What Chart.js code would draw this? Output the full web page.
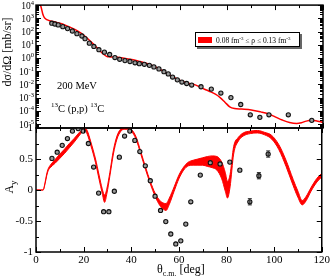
<!DOCTYPE html>
<html>
<head>
<meta charset="utf-8">
<script src="https://cdn.jsdelivr.net/npm/chart.js@4.4.0/dist/chart.umd.min.js"></script>
<style>
  body { margin: 0; background: #fff; }
  #wrap { position: relative; width: 332px; height: 278px; }
  #wrap canvas { position: absolute; left: 0; top: 0; }
</style>
</head>
<body>
<div id="wrap">
  <canvas id="xsChart" width="332" height="278"></canvas>
  <canvas id="ayChart" width="332" height="278"></canvas>
</div>
<script>
// cross section data, 13C(p,p) at 200 MeV  (deg, mb/sr)
const xsAngles = [6.6, 7.9, 9.3, 11.2, 13.2, 15.2, 17.1, 19.2, 20.5, 22.3, 24.2, 26.3, 28.6, 30.8, 33.0,
  35.0, 37.2, 39.3, 41.4, 43.2, 45.3, 47.4, 49.3, 51.4, 53.5, 55.3, 57.1, 59.1, 61.0, 63.0, 65.1,
  69.0, 73.3, 77.3, 81.5, 85.6, 89.6, 93.6, 97.4, 105.5, 115.3];
const xsValues = [427, 372, 316, 234, 166, 110, 69, 46, 29, 13.2, 7.4, 4.2, 2.75, 1.82, 1.07,
  0.79, 0.63, 0.54, 0.43, 0.37, 0.33, 0.275, 0.21, 0.148, 0.091, 0.062, 0.036, 0.022, 0.015, 0.0117, 0.0089,
  0.0066, 0.0044, 0.0022, 0.0010, 0.0003, 5.0e-5, 3.2e-5, 5.0e-5, 5.0e-5, 1.9e-5];

// calculated cross section (red curve)
const xsCurveAngles = [1.6, 2.2, 2.8, 3.5, 4.5, 6, 8, 10, 12, 14, 16, 18, 20, 22, 24, 26, 28, 29.5, 31, 33, 35,
  37, 40, 43, 46, 48, 50, 52, 54, 56, 58, 60, 62, 64, 66, 68.6, 70.5, 72.7, 75, 77, 79, 81, 83, 86, 90,
  94, 97, 100, 103, 106, 109, 111, 113, 115, 117, 120];
const xsCurveValues = [16000, 6300, 2240, 1120, 790, 630, 525, 417, 316, 224, 151, 95, 52, 25, 11.2, 4.8, 2.1, 1.32, 1.2, 1.17, 1.1,
  0.95, 0.76, 0.56, 0.40, 0.30, 0.21, 0.132, 0.083, 0.050, 0.032, 0.021, 0.015, 0.0117, 0.010, 0.0063, 0.0043, 0.0029, 0.0018, 0.0010, 0.00045, 0.0002, 0.000148, 0.000135, 0.000117,
  8.3e-5, 6.0e-5, 3.5e-5, 2.0e-5, 1.3e-5, 1.1e-5, 1.26e-5, 1.66e-5, 1.9e-5, 1.8e-5, 1.3e-5];

// analyzing power data
const ayAngles = [6.7, 8.9, 11.0, 13.2, 15.3, 17.7, 19.8, 22.0, 24.2, 26.3, 28.4, 30.6, 32.9, 35.0, 37.2, 39.4,
  41.5, 43.6, 45.9, 48.0, 50.0, 52.3, 54.5, 56.6, 58.7, 60.8, 62.9, 65.0, 69.0, 73.2, 77.3, 81.4, 85.6,
  89.8, 93.6, 97.5];
const ayValues = [0.51, 0.61, 0.72, 0.83, 0.95, 0.99, 0.95, 0.75, 0.37, -0.05, -0.35, -0.35, -0.02, 0.53, 0.87, 0.95,
  0.80, 0.62, 0.39, 0.15, -0.10, -0.33, -0.51, -0.71, -0.87, -0.82, -0.55, -0.19, 0.24, 0.44, 0.42, 0.45, 0.32,
  -0.19, 0.23, 0.58];
const ayErrors = [0, 0, 0, 0, 0, 0, 0, 0, 0, 0, 0, 0, 0, 0, 0, 0,
  0, 0, 0, 0, 0, 0, 0, 0, 0, 0, 0, 0, 0, 0, 0, 0, 0,
  0.05, 0.05, 0.05];

// calculated Ay band, 0.08 <= rho <= 0.13 fm^-3
const bandAngles = [0, 2, 3, 3.8, 4.5, 5.1, 6, 8, 10, 12, 14, 16, 18, 19.5, 20.5, 21.5, 23, 25, 26.5, 27.8, 28.8, 29.8,
  31, 32.5, 34, 35.5, 37, 38.5, 40, 42, 44, 46, 48, 50, 52, 53.5, 54.6, 56, 58, 60, 62, 64, 66, 68, 70, 72,
  74, 76, 78, 79.5, 80.4, 81.5, 83, 85, 87, 90, 93, 96, 99, 102, 105, 108, 110, 111.8, 113.5, 115.5, 118, 120];
const bandLow = [0, 0, 0, 0.10, 0.23, 0.31, 0.36, 0.43, 0.51, 0.59, 0.68, 0.77, 0.87, 0.94, 0.97, 0.90, 0.72, 0.44, 0.17, -0.05, -0.20, -0.05,
  0.22, 0.58, 0.82, 0.94, 0.98, 0.98, 0.95, 0.82, 0.58, 0.33, 0.10, -0.10, -0.25, -0.31, -0.33, -0.23, -0.02, 0.18, 0.32, 0.39, 0.40, 0.40, 0.40, 0.38,
  0.36, 0.32, 0.18, -0.02, -0.13, 0.05, 0.58, 0.79, 0.87, 0.91, 0.92, 0.89, 0.82, 0.65, 0.38, 0.07, -0.12, -0.24, -0.17, -0.02, 0.13, 0.21];
const bandHigh = [0, 0, 0, 0.12, 0.26, 0.34, 0.40, 0.49, 0.58, 0.66, 0.75, 0.83, 0.92, 0.98, 1.0, 0.96, 0.78, 0.50, 0.24, 0.02, -0.08, 0.03,
  0.28, 0.64, 0.87, 0.98, 1.0, 1.0, 0.98, 0.86, 0.62, 0.37, 0.14, -0.05, -0.17, -0.21, -0.22, -0.13, 0.05, 0.24, 0.37, 0.45, 0.48, 0.50, 0.52, 0.54,
  0.55, 0.54, 0.45, 0.28, 0.14, 0.25, 0.70, 0.85, 0.92, 0.95, 0.96, 0.93, 0.88, 0.73, 0.48, 0.17, -0.02, -0.17, -0.10, 0.04, 0.19, 0.27];

const xMajor = [0, 20, 40, 60, 80, 100, 120];
const xMinor = [10, 30, 50, 70, 90, 110];
const ayMajor = [-1, -0.5, 0, 0.5, 1];
const ayMinor = [-0.75, -0.25, 0.25, 0.75];
const decades = [-5, -4, -3, -2, -1, 0, 1, 2, 3, 4];

const serif = '"Liberation Serif", "DejaVu Serif", serif';
const pts = (xs, ys) => xs.map((x, i) => ({ x: x, y: ys[i] }));

function line(ctx, x1, y1, x2, y2) {
  ctx.beginPath();
  ctx.moveTo(x1, y1);
  ctx.lineTo(x2, y2);
  ctx.stroke();
}

// inward ticks on all four sides + box
function drawFrame(chart, yMajor, yMinor) {
  const { ctx, chartArea: a } = chart;
  const sx = chart.scales.x, sy = chart.scales.y;
  ctx.save();
  ctx.strokeStyle = '#000';
  ctx.lineWidth = 1;
  xMajor.forEach(v => {
    const p = Math.round(sx.getPixelForValue(v)) + 0.5;
    line(ctx, p, a.top, p, a.top + 5);
    line(ctx, p, a.bottom, p, a.bottom - 5);
  });
  xMinor.forEach(v => {
    const p = Math.round(sx.getPixelForValue(v)) + 0.5;
    line(ctx, p, a.top, p, a.top + 3);
    line(ctx, p, a.bottom, p, a.bottom - 3);
  });
  yMajor.forEach(v => {
    const p = Math.round(sy.getPixelForValue(v)) + 0.5;
    line(ctx, a.left, p, a.left + 5, p);
    line(ctx, a.right, p, a.right - 5, p);
  });
  yMinor.forEach(v => {
    const p = Math.round(sy.getPixelForValue(v)) + 0.5;
    line(ctx, a.left, p, a.left + 3, p);
    line(ctx, a.right, p, a.right - 3, p);
  });
  ctx.lineWidth = 1.5;
  ctx.strokeRect(a.left, a.top, a.right - a.left, a.bottom - a.top);
  ctx.restore();
}

// text with superscript / subscript pieces: [text, size, dy]
function drawPieces(ctx, pieces, x, y) {
  let cx = x;
  pieces.forEach(p => {
    ctx.font = p[1] + 'px ' + serif;
    ctx.fillText(p[0], cx, y + p[2]);
    cx += ctx.measureText(p[0]).width;
  });
  return cx;
}
function piecesWidth(ctx, pieces) {
  let w = 0;
  pieces.forEach(p => {
    ctx.font = p[1] + 'px ' + serif;
    w += ctx.measureText(p[0]).width;
  });
  return w;
}

const logMinor = [];
decades.forEach(d => {
  for (let m = 2; m <= 9; m++) {
    const v = m * Math.pow(10, d);
    if (v < 1e4) logMinor.push(v);
  }
});
logMinor.push(6e-6, 7e-6, 8e-6, 9e-6);

const xsDecor = {
  id: 'xsDecor',
  afterDraw(chart) {
    const ctx = chart.ctx;
    const sy = chart.scales.y;
    drawFrame(chart, decades.map(d => Math.pow(10, d)), logMinor);
    ctx.save();
    ctx.fillStyle = '#000';
    ctx.textBaseline = 'alphabetic';
    // log tick labels
    decades.forEach(d => {
      const y = sy.getPixelForValue(Math.pow(10, d));
      const pieces = [['10', 9.5, 0], [String(d), 6.5, -4]];
      const w = piecesWidth(ctx, pieces);
      drawPieces(ctx, pieces, 34 - w, y + 3.5);
    });
    // y title
    ctx.save();
    ctx.translate(11, 52);
    ctx.rotate(-Math.PI / 2);
    ctx.font = '12px ' + serif;
    ctx.textAlign = 'center';
    ctx.fillText('dσ/dΩ [mb/sr]', 0, 0);
    ctx.restore();
    // annotations
    ctx.font = '10.5px ' + serif;
    ctx.fillText('200 MeV', 57, 89);
    drawPieces(ctx, [['13', 7, -5], ['C (p,p)', 10.5, 0], [' ', 10.5, 0], ['13', 7, -5], ['C', 10.5, 0]], 51, 112);
    // legend
    ctx.fillStyle = '#666';
    ctx.fillRect(197, 34, 105, 15);
    ctx.fillStyle = '#fff';
    ctx.fillRect(195, 32, 105, 15);
    ctx.strokeStyle = '#000';
    ctx.lineWidth = 1;
    ctx.strokeRect(195.5, 32.5, 104, 14);
    ctx.fillStyle = 'red';
    ctx.fillRect(198, 37, 14, 6);
    ctx.fillStyle = '#000';
    drawPieces(ctx, [['0.08 fm', 7.5, 0], ['-3', 5, -3.5], [' ≤ ρ ≤ 0.13 fm', 7.5, 0], ['-3', 5, -3.5]], 216, 43);
    ctx.restore();
  }
};

const ayDecor = {
  id: 'ayDecor',
  afterDatasetsDraw(chart) {
    const ctx = chart.ctx;
    const sx = chart.scales.x, sy = chart.scales.y;
    ctx.save();
    ctx.strokeStyle = '#222';
    ctx.lineWidth = 1;
    ayAngles.forEach((x, i) => {
      if (!ayErrors[i]) return;
      const px = sx.getPixelForValue(x);
      const y1 = sy.getPixelForValue(ayValues[i] - ayErrors[i]);
      const y2 = sy.getPixelForValue(ayValues[i] + ayErrors[i]);
      line(ctx, px, y1, px, y2);
      line(ctx, px - 2, y1, px + 2, y1);
      line(ctx, px - 2, y2, px + 2, y2);
    });
    ctx.restore();
  },
  afterDraw(chart) {
    const ctx = chart.ctx;
    drawFrame(chart, ayMajor, ayMinor);
    ctx.save();
    ctx.fillStyle = '#000';
    // A_y title
    ctx.save();
    ctx.translate(13, 187);
    ctx.rotate(-Math.PI / 2);
    const ay = [['A', 12, 0], ['y', 9, 3]];
    drawPieces(ctx, ay, -piecesWidth(ctx, ay) / 2, 0);
    ctx.restore();
    // x title
    const xt = [['θ', 12, 0], ['c.m.', 8, 3], [' [deg]', 12, 0]];
    drawPieces(ctx, xt, 157, 273);
    ctx.restore();
  }
};

const pointStyle = {
  showLine: false,
  pointRadius: 2.1,
  pointBackgroundColor: '#9a9a9a',
  pointBorderColor: '#111',
  pointBorderWidth: 1.1
};

new Chart(document.getElementById('xsChart'), {
  type: 'line',
  data: {
    datasets: [Object.assign({ data: pts(xsAngles, xsValues) }, pointStyle), {
      data: pts(xsCurveAngles, xsCurveValues),
      borderColor: '#ff0000',
      borderWidth: 1.5,
      pointRadius: 0,
      cubicInterpolationMode: 'monotone'
    }]
  },
  options: {
    responsive: false,
    animation: false,
    layout: { padding: { left: 0, right: 9, top: 5, bottom: 150 } },
    plugins: { legend: { display: false }, tooltip: { enabled: false } },
    scales: {
      x: { type: 'linear', min: 0, max: 120, display: false },
      y: {
        type: 'logarithmic', min: 5e-6, max: 1e4,
        ticks: { display: false },
        grid: { display: false },
        border: { display: false },
        afterFit(s) { s.width = 36; }
      }
    }
  },
  plugins: [xsDecor]
});

new Chart(document.getElementById('ayChart'), {
  type: 'line',
  data: {
    datasets: [Object.assign({ data: pts(ayAngles, ayValues) }, pointStyle), {
      data: pts(bandAngles, bandLow),
      borderColor: '#ff0000',
      borderWidth: 1,
      pointRadius: 0,
      cubicInterpolationMode: 'monotone'
    }, {
      data: pts(bandAngles, bandHigh),
      borderColor: '#ff0000',
      backgroundColor: '#ff0000',
      borderWidth: 1,
      pointRadius: 0,
      fill: '-1',
      cubicInterpolationMode: 'monotone'
    }]
  },
  options: {
    responsive: false,
    animation: false,
    layout: { padding: { left: 0, right: 9, top: 128, bottom: 0 } },
    plugins: { legend: { display: false }, tooltip: { enabled: false } },
    scales: {
      x: {
        type: 'linear', min: 0, max: 120,
        ticks: { stepSize: 20, color: '#000', padding: 2, maxRotation: 0, font: { family: serif, size: 11 } },
        grid: { display: false, drawTicks: false },
        border: { display: false },
        afterFit(s) { s.height = 26; }
      },
      y: {
        min: -1, max: 1,
        ticks: {
          stepSize: 0.5, color: '#000', padding: 3, font: { family: serif, size: 11 },
          callback: v => String(v)
        },
        grid: { display: false, drawTicks: false },
        border: { display: false },
        afterFit(s) { s.width = 36; }
      }
    }
  },
  plugins: [ayDecor]
});
</script>
</body>
</html>
